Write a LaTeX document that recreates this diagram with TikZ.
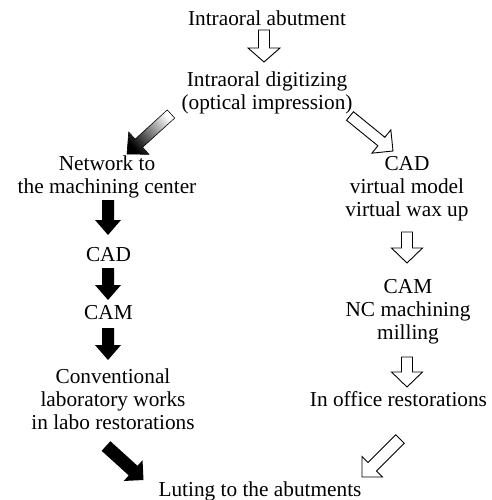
\documentclass[tikz,border=0pt]{standalone}
\usepackage{fontspec}
\setmainfont{Liberation Serif}
\usetikzlibrary{calc}
% block arrow: #1 style, #2 start, #3 tip, #4 shaft half-width, #5 head half-width, #6 head length
\newcommand{\blkarrow}[6]{%
  \coordinate (tmpH) at ($(#3)!#6!(#2)$);
  \path[#1] ($(#2)!#4!90:(#3)$) -- ($(tmpH)!#4!90:(#3)$) -- ($(tmpH)!#5!90:(#3)$) -- (#3)
    -- ($(tmpH)!#5!-90:(#3)$) -- ($(tmpH)!#4!-90:(#3)$) -- ($(#2)!#4!-90:(#3)$) -- cycle;
}
\begin{document}
\begin{tikzpicture}[x=1pt,y=-1pt,
  txt/.style={font=\fontsize{21.3}{23}\selectfont, align=center, inner sep=0pt, anchor=north},
  hollow/.style={draw=black, fill=white, line width=0.9pt, line join=miter},
  blackarr/.style={fill=black},
  grad/.style={draw=black, line width=0.6pt, bottom color=black, top color=white, shading angle=-48}]
\useasboundingbox (0,0) rectangle (491,500);

% texts
\node[txt] (abut) at (267,9.4) {\strut Intraoral abutment};
\node[txt] (dig) at (267,69.9) {\strut Intraoral digitizing\\(optical impression)};
\node[txt] (net) at (107,154.6) {\strut Network to\\the machining center};
\node[txt] (cadl) at (108.5,245.4) {\strut CAD};
\node[txt] (caml) at (108.5,302.9) {\strut CAM};
\node[txt] (conv) at (113,366.9) {\strut Conventional\\laboratory works\\in labo restorations};
\node[txt] (lut) at (260,480.4) {\strut Luting to the abutments};
\node[txt] (cadr) at (407,154.6) {\strut CAD\\virtual model\\virtual wax up};
\node[txt] (camr) at (408,276.9) {\strut CAM\\NC machining\\milling};
\node[txt] (off) at (398.5,390.6) {\strut In office restorations};

% arrow end points
\coordinate (a1s) at (264,30);   \coordinate (a1e) at (264,62);
\coordinate (a2s) at (171,114);  \coordinate (a2e) at (127,154);
\coordinate (a3s) at (350,116);  \coordinate (a3e) at (393,151);
\coordinate (a4s) at (108,200);  \coordinate (a4e) at (108,235);
\coordinate (a5s) at (108,268);  \coordinate (a5e) at (108,300);
\coordinate (a6s) at (108,328);  \coordinate (a6e) at (108,360);
\coordinate (a7s) at (106,446);  \coordinate (a7e) at (143.5,480);
\coordinate (a8s) at (407,232);  \coordinate (a8e) at (407,263);
\coordinate (a9s) at (407,357);  \coordinate (a9e) at (407,387);
\coordinate (a10s) at (400,439); \coordinate (a10e) at (362,477);

% arrows
\blkarrow{hollow}{a1s}{a1e}{5.5pt}{16pt}{14pt}
\blkarrow{grad}{a2s}{a2e}{5.5pt}{15pt}{16pt}
\blkarrow{hollow}{a3s}{a3e}{5.5pt}{15pt}{15pt}
\blkarrow{blackarr}{a4s}{a4e}{6pt}{13pt}{15pt}
\blkarrow{blackarr}{a5s}{a5e}{6pt}{13pt}{15pt}
\blkarrow{blackarr}{a6s}{a6e}{6pt}{13pt}{15pt}
\blkarrow{blackarr}{a7s}{a7e}{6.5pt}{14pt}{14pt}
\blkarrow{hollow}{a8s}{a8e}{5.5pt}{15.5pt}{15pt}
\blkarrow{hollow}{a9s}{a9e}{5.5pt}{15.5pt}{15pt}
\blkarrow{hollow}{a10s}{a10e}{6pt}{14.5pt}{14.5pt}
\end{tikzpicture}
\end{document}
